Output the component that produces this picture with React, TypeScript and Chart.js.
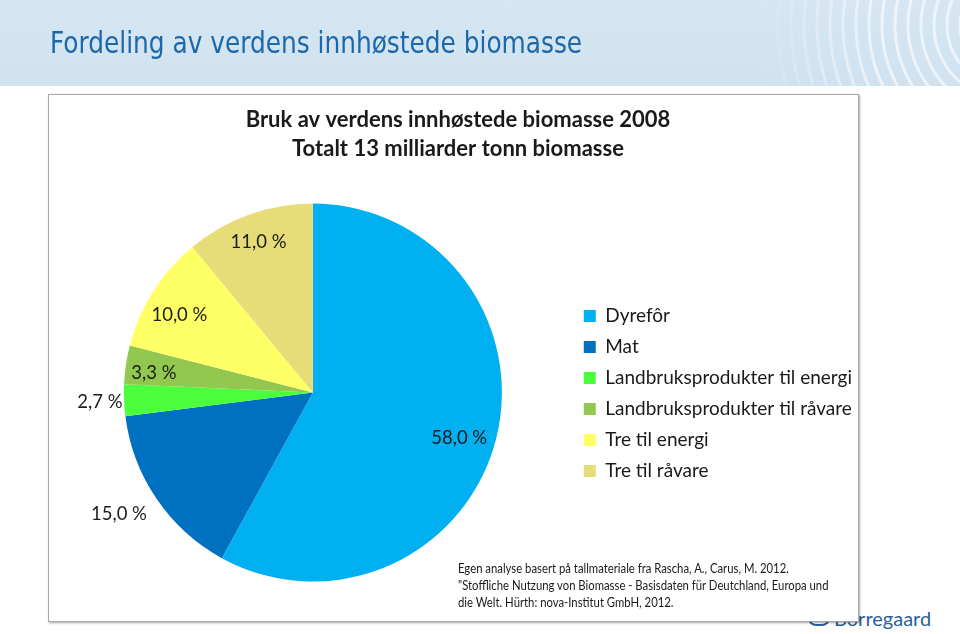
import React, { useEffect, useRef } from "react";
import { Chart, registerables } from "chart.js";

Chart.register(...registerables);

const categories = [
  "Dyrefôr",
  "Mat",
  "Landbruksprodukter til energi",
  "Landbruksprodukter til råvare",
  "Tre til energi",
  "Tre til råvare",
];
const shares = [58.0, 15.0, 2.7, 3.3, 10.0, 11.0];
const sliceColors = ["#00b0f0", "#0070c0", "#4cff3c", "#92c850", "#ffff66", "#e6dc78"];
const chartTitle = ["Bruk av verdens innhøstede biomasse 2008", "Totalt 13 milliarder tonn biomasse"];
const pageTitle = "Fordeling av verdens innhøstede biomasse";
const sourceLines = [
  "Egen analyse basert på tallmateriale fra Rascha, A., Carus, M. 2012.",
  "\"Stoffliche Nutzung von Biomasse - Basisdaten für Deutchland, Europa und",
  "die Welt.  Hürth: nova-Institut GmbH, 2012.",
];

// label placement style per slice: radius fraction and angular nudge (degrees)
const labelRadius = [0.81, 1.21, 1.128, 0.848, 0.818, 0.849];
const labelNudge = [2.7, 2.2, -0.3, -1.3, -2.1, 0];

const FONT = "Lato, 'Open Sans', 'Noto Sans', sans-serif";

const labelPlugin = {
  id: "sliceLabels",
  afterDatasetsDraw(chart: any) {
    const ctx = chart.ctx;
    const meta = chart.getDatasetMeta(0);
    ctx.save();
    ctx.font = `18.5px ${FONT}`;
    ctx.fillStyle = "#1c1c1c";
    ctx.textAlign = "center";
    ctx.textBaseline = "middle";
    meta.data.forEach((arc: any, i: number) => {
      const p = arc.getProps(["x", "y", "startAngle", "endAngle", "outerRadius"], true);
      const a = (p.startAngle + p.endAngle) / 2 + (labelNudge[i] * Math.PI) / 180;
      const r = p.outerRadius * labelRadius[i];
      const txt = shares[i].toFixed(1).replace(".", ",") + " %";
      ctx.fillText(txt, p.x + Math.cos(a) * r, p.y + Math.sin(a) * r);
    });
    ctx.restore();
  },
};

export default function App() {
  const canvasRef = useRef<HTMLCanvasElement | null>(null);

  useEffect(() => {
    if (!canvasRef.current) return;
    const chart = new Chart(canvasRef.current, {
      type: "pie",
      data: {
        labels: categories,
        datasets: [
          {
            data: shares,
            backgroundColor: sliceColors,
            borderWidth: 0,
            hoverOffset: 0,
            radius: 189,
          } as any,
        ],
      },
      options: {
        animation: false,
        responsive: false,
        devicePixelRatio: 1,
        layout: { padding: { left: 5, right: -4, top: 0, bottom: 41 } },
        plugins: {
          title: {
            display: true,
            text: chartTitle,
            color: "#1a1a1a",
            font: { family: FONT, size: 22, weight: "bold", lineHeight: 1.32 },
            padding: { top: 10, bottom: 42 },
          },
          legend: {
            display: true,
            position: "right",
            title: {
              display: true,
              text: " ",
              font: { size: 10, lineHeight: 1 },
              padding: { top: 51, bottom: 51 },
            },
            labels: {
              boxWidth: 12,
              boxHeight: 12,
              padding: 12,
              color: "#1a1a1a",
              font: { family: FONT, size: 19 },
            },
          },
          tooltip: { enabled: false },
        },
      },
      plugins: [labelPlugin],
    });
    return () => chart.destroy();
  }, []);

  return (
    <div
      style={{
        position: "absolute",
        left: 0,
        top: 0,
        width: 960,
        height: 634,
        background: "#ffffff",
        overflow: "hidden",
      }}
    >
      <div
        style={{
          position: "absolute",
          left: 0,
          top: 0,
          width: 960,
          height: 86,
          background: "linear-gradient(180deg, #d6e6f3 0%, #d0e2f0 100%)",
        }}
      />
      <div
        style={{
          position: "absolute",
          left: 760,
          top: 0,
          width: 200,
          height: 86,
          background:
            "repeating-radial-gradient(circle at 250px 25px, rgba(255,255,255,0) 0px, rgba(255,255,255,0) 9px, rgba(255,255,255,0.6) 10px, rgba(255,255,255,0.6) 12px, rgba(255,255,255,0) 13px)",
          WebkitMaskImage: "linear-gradient(90deg, rgba(0,0,0,0) 0%, rgba(0,0,0,1) 60%)",
          maskImage: "linear-gradient(90deg, rgba(0,0,0,0) 0%, rgba(0,0,0,1) 60%)",
        }}
      />
      <div
        style={{
          position: "absolute",
          left: 50,
          top: 25,
          fontFamily: "'Liberation Sans Narrow', 'DejaVu Sans Condensed', 'Arial Narrow', sans-serif",
          fontSize: 30,
          color: "#1d68a8",
          whiteSpace: "nowrap",
          lineHeight: "36px",
          transform: "scaleX(0.92)",
          transformOrigin: "left center",
        }}
      >
        {pageTitle}
      </div>
      <div
        style={{
          position: "absolute",
          left: 808,
          top: 606,
          fontFamily: FONT,
          fontSize: 20,
          color: "#2a5f9a",
          whiteSpace: "nowrap",
          display: "flex",
          alignItems: "center",
          gap: 4,
        }}
      >
        <span
          style={{
            display: "inline-block",
            width: 22,
            height: 16,
            border: "2px solid #2a5f9a",
            borderRadius: 8,
            boxSizing: "border-box",
            fontSize: 11,
            lineHeight: "12px",
            textAlign: "center",
            fontWeight: "bold",
          }}
        >
          ⚔
        </span>
        <span>Borregaard</span>
      </div>
      <div
        style={{
          position: "absolute",
          left: 48,
          top: 94,
          width: 811,
          height: 528,
          background: "#ffffff",
          border: "1px solid #a8a8a8",
          boxShadow: "1px 1px 2px rgba(0,0,0,0.35)",
          boxSizing: "border-box",
        }}
      >
        <canvas ref={canvasRef} width={809} height={526} style={{ display: "block" }} />
        <div
          style={{
            position: "absolute",
            left: 409,
            top: 465,
            fontFamily: FONT,
            fontSize: 12.5,
            lineHeight: "17px",
            color: "#1a1a1a",
            whiteSpace: "nowrap",
            transform: "scaleX(0.905)",
            transformOrigin: "left top",
          }}
        >
          {sourceLines.map((l, i) => (
            <div key={i}>{l}</div>
          ))}
        </div>
      </div>
    </div>
  );
}
